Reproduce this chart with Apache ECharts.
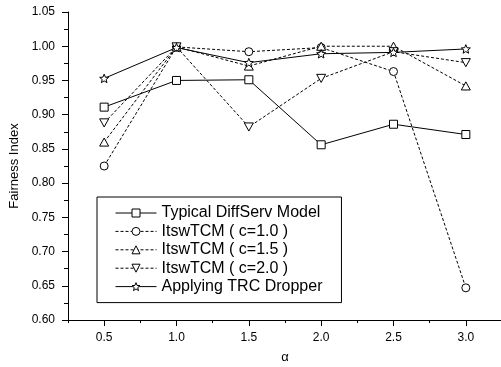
<!DOCTYPE html>
<html>
<head>
<meta charset="utf-8">
<script src="https://cdn.jsdelivr.net/npm/echarts@6/dist/echarts.min.js"></script>
<style>
  html, body { margin: 0; padding: 0; background: #fff; }
  #chart { width: 501px; height: 367px; }
</style>
</head>
<body>
<div id="chart"></div>
<script>
// α values on the x axis
const alphas = [0.5, 1.0, 1.5, 2.0, 2.5, 3.0];

// Fairness index per scheme
const typicalDiffServ = [0.911, 0.950, 0.951, 0.856, 0.886, 0.871];
const itswC10 = [0.825, 0.999, 0.992, 0.998, 0.963, 0.647];
const itswC15 = [0.860, 0.999, 0.971, 1.000, 1.000, 0.942];
const itswC20 = [0.888, 0.999, 0.882, 0.953, 0.992, 0.976];
const trcDropper = [0.953, 0.998, 0.976, 0.989, 0.991, 0.996];

const seriesNames = [
  'Typical DiffServ Model',
  'ItswTCM ( c=1.0 )',
  'ItswTCM ( c=1.5 )',
  'ItswTCM ( c=2.0 )',
  'Applying TRC Dropper'
];

// Tick positions
const xMajorTicks = [0.5, 1.0, 1.5, 2.0, 2.5, 3.0];
const xMinorTicks = [0.25, 0.75, 1.25, 1.75, 2.25, 2.75, 3.25];

const STAR = 'path://M50,0L62.9,32.2L97.6,34.5L70.9,56.8L79.4,90.5L50,72L20.6,90.5L29.1,56.8L2.4,34.5L37.1,32.2Z';
const TRI_UP = 'path://M5,0L10,9L0,9Z';
const TRI_DOWN = 'path://M0,0L10,0L5,9Z';

const FONT = 'Liberation Sans, Arial, sans-serif';
const DASH = [3, 2];

function mk(name, values, symbol, size, dashed) {
  return {
    name: name,
    type: 'line',
    data: alphas.map((a, i) => [a, values[i]]),
    symbol: symbol,
    symbolSize: size,
    symbolKeepAspect: true,
    showAllSymbol: true,
    lineStyle: { color: '#000', width: 1, type: dashed ? DASH : 'solid' },
    itemStyle: { color: '#fff', borderColor: '#000', borderWidth: 1 },
    emphasis: { disabled: true },
    animation: false
  };
}

const chart = echarts.init(document.getElementById('chart'), null, { renderer: 'canvas' });

chart.setOption({
  animation: false,
  backgroundColor: '#fff',
  grid: { left: 68, top: 12, bottom: 47, right: -1, containLabel: false, outerBoundsMode: 'none' },
  xAxis: [
    {
      type: 'value',
      min: 0.25,
      max: 3.25,
      name: 'α',
      nameLocation: 'middle',
      nameGap: 31,
      nameTextStyle: { fontFamily: FONT, fontSize: 13, color: '#000' },
      axisLine: { show: true, onZero: false, lineStyle: { color: '#000', width: 1 } },
      axisTick: { show: true, customValues: xMajorTicks, length: 6, lineStyle: { color: '#000' } },
      axisLabel: {
        customValues: xMajorTicks,
        margin: 12,
        fontFamily: FONT, fontSize: 12, color: '#000',
        formatter: v => v.toFixed(1)
      },
      splitLine: { show: false }
    },
    {
      type: 'value',
      min: 0.25,
      max: 3.25,
      position: 'bottom',
      axisLine: { show: false, onZero: false },
      axisTick: { show: true, customValues: xMinorTicks, length: 3, lineStyle: { color: '#000' } },
      axisLabel: { show: false },
      splitLine: { show: false }
    }
  ],
  yAxis: {
    type: 'value',
    min: 0.6,
    max: 1.05,
    interval: 0.05,
    name: 'Fairness Index',
    nameLocation: 'middle',
    nameGap: 43,
    nameTextStyle: { fontFamily: FONT, fontSize: 13, color: '#000' },
    axisLine: { show: true, onZero: false, lineStyle: { color: '#000', width: 1 } },
    axisTick: { show: true, length: 6, lineStyle: { color: '#000' } },
    minorTick: { show: true, splitNumber: 2, length: 4, lineStyle: { color: '#000' } },
    axisLabel: {
      margin: 13,
      fontFamily: FONT, fontSize: 12, color: '#000',
      formatter: v => v.toFixed(2)
    },
    splitLine: { show: false }
  },
  legend: {
    orient: 'vertical',
    left: 97,
    top: 197,
    padding: [8, 19, 8, 18],
    itemWidth: 41,
    itemHeight: 10,
    itemGap: 2.4,
    borderColor: '#000',
    borderWidth: 1,
    backgroundColor: '#fff',
    selectedMode: false,
    lineStyle: { width: 1 },
    itemStyle: { borderWidth: 1 },
    textStyle: { fontFamily: FONT, fontSize: 16, color: '#000' },
    data: seriesNames
  },
  series: [
    mk(seriesNames[0], typicalDiffServ, 'rect', 8, false),
    mk(seriesNames[1], itswC10, 'circle', 8, true),
    mk(seriesNames[2], itswC15, TRI_UP, 9, true),
    mk(seriesNames[3], itswC20, TRI_DOWN, 9, true),
    mk(seriesNames[4], trcDropper, STAR, 9, false)
  ]
});
</script>
</body>
</html>
